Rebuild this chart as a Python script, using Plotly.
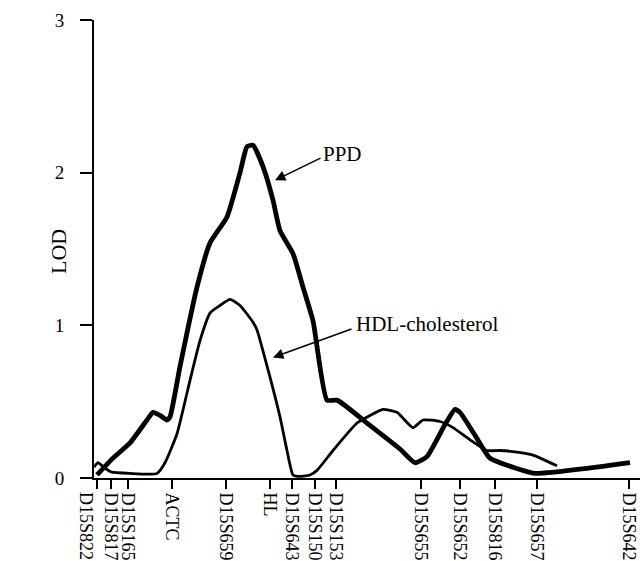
import plotly.graph_objects as go

# Marker map positions (arbitrary map units) and names
marker_pos = [3, 17, 34, 78, 132, 176, 198, 221, 242, 327, 366, 401, 443, 535]
marker_names = ["D15S822", "D15S817", "D15S165", "ACTC", "D15S659", "HL", "D15S643",
                "D15S150", "D15S153", "D15S655", "D15S652", "D15S816", "D15S657", "D15S642"]

# PPD LOD curve
ppd_x = [3, 19, 36, 53, 59, 66, 73, 76, 86, 103, 116, 133, 146, 153, 159, 169, 179, 186,
         199, 209, 219, 233, 243, 273, 306, 321, 333, 351, 361, 366, 381, 396, 419, 441, 536]
ppd_y = [0.02, 0.13, 0.23, 0.38, 0.43, 0.41, 0.38, 0.40, 0.73, 1.25, 1.54, 1.71, 2.00, 2.17,
         2.18, 2.04, 1.82, 1.62, 1.47, 1.25, 1.03, 0.51, 0.51, 0.36, 0.19, 0.10, 0.14, 0.35,
         0.45, 0.43, 0.28, 0.13, 0.07, 0.03, 0.10]

# HDL-cholesterol LOD curve
hdl_x = [0, 4, 10, 17, 36, 63, 71, 83, 96, 106, 116, 126, 136, 146, 159, 163, 174, 186, 193,
         199, 206, 216, 223, 239, 263, 276, 289, 303, 319, 329, 346, 359, 376, 393, 406, 423,
         439, 463]
hdl_y = [0.07, 0.10, 0.07, 0.04, 0.03, 0.03, 0.10, 0.29, 0.64, 0.90, 1.08, 1.13, 1.17, 1.13,
         1.02, 0.97, 0.71, 0.40, 0.18, 0.02, 0.01, 0.02, 0.05, 0.18, 0.36, 0.41, 0.45, 0.43,
         0.33, 0.38, 0.37, 0.33, 0.25, 0.18, 0.18, 0.17, 0.15, 0.08]

y_ticks = [0, 1, 2, 3]

FONT = "Liberation Serif, Times New Roman, serif"
L, T, W, H = 94, 20, 546, 458

fig = go.Figure()
fig.add_trace(go.Scatter(x=ppd_x, y=ppd_y, mode="lines", name="PPD",
                         line=dict(color="black", width=4.8, shape="spline", smoothing=0.5)))
fig.add_trace(go.Scatter(x=hdl_x, y=hdl_y, mode="lines", name="HDL-cholesterol",
                         line=dict(color="black", width=2.8, shape="spline", smoothing=0.5)))

# arrows
fig.add_annotation(x=181, y=1.95, ax=228, ay=2.10, axref="x", ayref="y", xref="x", yref="y",
                   text="", showarrow=True, arrowhead=2, arrowsize=1.3, arrowwidth=1.6,
                   arrowcolor="black")
fig.add_annotation(x=179, y=0.79, ax=259, ay=0.98, axref="x", ayref="y", xref="x", yref="y",
                   text="", showarrow=True, arrowhead=2, arrowsize=1.3, arrowwidth=1.6,
                   arrowcolor="black")
fig.add_annotation(x=248, y=2.12, xref="x", yref="y", text="PPD", showarrow=False,
                   font=dict(family=FONT, size=21, color="black"))
fig.add_annotation(x=333, y=1.01, xref="x", yref="y", text="HDL-cholesterol", showarrow=False,
                   font=dict(family=FONT, size=21, color="black"))
fig.add_annotation(x=(58 - L) / W, y=(T + H - 252) / H, xref="paper", yref="paper",
                   text="LOD", showarrow=False, textangle=-90,
                   xanchor="center", yanchor="middle",
                   font=dict(family=FONT, size=22, color="black"))

# first marker label sits left of its tick in the original, drawn as text
tick_text = [""] + marker_names[1:]
fig.add_annotation(x=(86 - L) / W, y=0, xref="paper", yref="paper",
                   text=marker_names[0], showarrow=False, textangle=90,
                   xanchor="center", yanchor="top", yshift=-12,
                   font=dict(family=FONT, size=18, color="black"))

fig.update_layout(
    width=640, height=561,
    margin=dict(l=L, r=0, t=T, b=561 - T - H),
    paper_bgcolor="white", plot_bgcolor="white",
    showlegend=False,
    font=dict(family=FONT, color="black"),
    xaxis=dict(range=[0, 546], tickmode="array", tickvals=marker_pos, ticktext=tick_text,
               tickangle=90, ticks="outside", ticklen=9, tickwidth=1.5, tickcolor="black",
               showline=True, linecolor="black", linewidth=2, showgrid=False, zeroline=False,
               tickfont=dict(family=FONT, size=18, color="black")),
    yaxis=dict(range=[0, 3], tickmode="array", tickvals=y_ticks,
               ticks="outside", ticklen=12, tickwidth=1.5, tickcolor="black",
               showline=True, linecolor="black", linewidth=2, showgrid=False, zeroline=False,
               ticklabelstandoff=12,
               tickfont=dict(family=FONT, size=19, color="black")),
)

fig.write_html("out.html")
